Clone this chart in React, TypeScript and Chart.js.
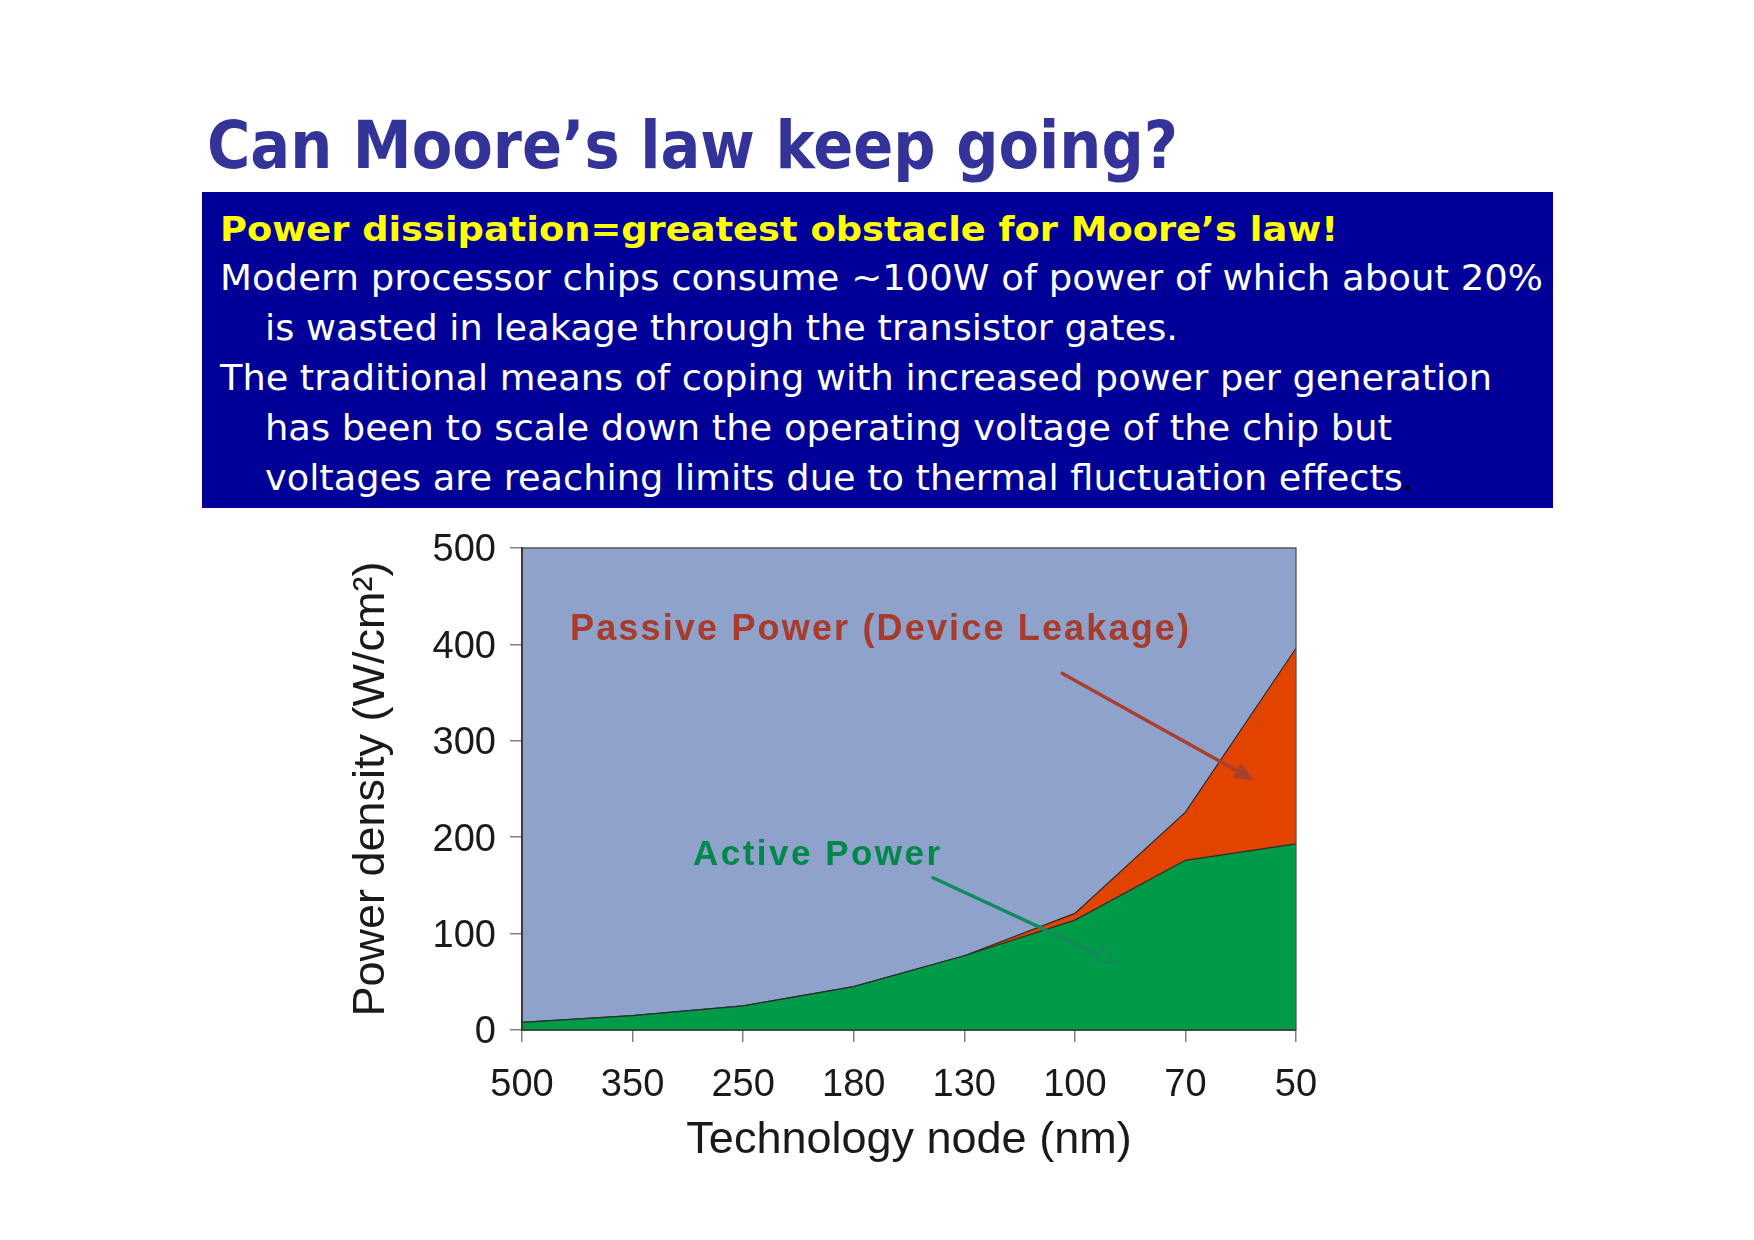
import React, { useEffect, useLayoutEffect, useRef } from 'react';
import { Chart, registerables } from 'chart.js';

Chart.register(...registerables);

// ---- data ----
const nodes = ['500', '350', '250', '180', '130', '100', '70', '50'];
const activePower = [8, 15, 25, 45, 77, 114, 176, 193];
const passivePower = [0, 0, 0, 0, 0, 7, 50, 203];
const yMin = 0;
const yMax = 500;
const yStep = 100;

const titleText = 'Can Moore\u2019s law keep going?';
const headline = 'Power dissipation=greatest obstacle for Moore\u2019s law!';
const bodyLines = [
  'Modern processor chips consume ~100W of power of which about 20%',
  'is wasted in leakage through the transistor gates.',
  'The traditional means of coping with increased power per generation',
  'has been to scale down the operating voltage of the chip but',
  'voltages are reaching limits due to thermal fluctuation effects',
];
const passiveLabel = 'Passive Power (Device Leakage)';
const activeLabel = 'Active Power';
const xTitle = 'Technology node (nm)';
const yTitle = 'Power density (W/cm\u00B2)';

// ---- helpers ----
function drawArrow(ctx: CanvasRenderingContext2D, x1: number, y1: number, x2: number, y2: number, color: string, filled: boolean) {
  const ang = Math.atan2(y2 - y1, x2 - x1);
  const c = Math.cos(ang), s = Math.sin(ang);
  const hl = 20, hw = 8;
  const bx = x2 - hl * c, by = y2 - hl * s;
  ctx.save();
  ctx.strokeStyle = color;
  ctx.fillStyle = color;
  ctx.lineWidth = 3.4;
  ctx.lineCap = 'round';
  ctx.beginPath();
  ctx.moveTo(x1, y1);
  ctx.lineTo(filled ? bx + 4 * c : bx, filled ? by + 4 * s : by);
  ctx.stroke();
  ctx.beginPath();
  ctx.moveTo(x2, y2);
  ctx.lineTo(bx - hw * s, by + hw * c);
  ctx.lineTo(bx + hw * s, by - hw * c);
  ctx.closePath();
  if (filled) ctx.fill();
  else {
    ctx.lineWidth = 2.2;
    ctx.lineJoin = 'miter';
    ctx.stroke();
  }
  ctx.restore();
}

function spacedText(ctx: CanvasRenderingContext2D, text: string, x: number, y: number, width: number, font: string, color: string) {
  ctx.save();
  ctx.font = font;
  (ctx as any).letterSpacing = '0px';
  const w = ctx.measureText(text).width;
  const ls = (width - w) / (text.length - 1);
  (ctx as any).letterSpacing = `${ls}px`;
  ctx.fillStyle = color;
  ctx.textAlign = 'left';
  ctx.textBaseline = 'alphabetic';
  ctx.fillText(text, x, y);
  ctx.restore();
}

const plotPlugin = {
  id: 'plotDecor',
  beforeDraw(chart: any) {
    const { ctx, chartArea: a } = chart;
    ctx.save();
    ctx.fillStyle = '#8FA2CB';
    ctx.fillRect(a.left, a.top, a.right - a.left, a.bottom - a.top);
    ctx.restore();
  },
  afterDatasetsDraw(chart: any) {
    const { ctx, chartArea: a } = chart;
    const xs = chart.scales.x;
    const ys = chart.scales.y;
    const px = (i: number) => xs.getPixelForValue(i);
    const py = (v: number) => ys.getPixelForValue(v);

    // frame
    ctx.save();
    ctx.strokeStyle = '#555';
    ctx.lineWidth = 1.3;
    ctx.beginPath();
    ctx.moveTo(a.left, a.top);
    ctx.lineTo(a.right, a.top);
    ctx.lineTo(a.right, a.bottom);
    ctx.stroke();
    ctx.strokeStyle = '#333';
    ctx.lineWidth = 1.5;
    ctx.beginPath();
    ctx.moveTo(a.left, a.top);
    ctx.lineTo(a.left, a.bottom);
    ctx.lineTo(a.right, a.bottom);
    ctx.stroke();
    ctx.restore();

    // annotations
    spacedText(ctx, passiveLabel, px(0.434), py(404.5), 619, 'bold 36px "Liberation Sans", Arial, sans-serif', '#A93B2A');
    spacedText(ctx, activeLabel, px(1.547), py(171), 247, 'bold 35px "Liberation Sans", Arial, sans-serif', '#00884A');
    drawArrow(ctx, px(4.884), py(370), px(6.62), py(259), '#A8402E', true);
    drawArrow(ctx, px(3.717), py(158), px(5.381), py(69.5), '#138A5C', false);
  },
};

function FitLine(props: { left: number; baseline: number; width: number; size: number; color: string; weight?: any; family: string; children: any }) {
  const ref = useRef<HTMLDivElement>(null);
  useLayoutEffect(() => {
    const el = ref.current;
    if (!el) return;
    el.style.transform = 'none';
    const w = el.getBoundingClientRect().width;
    if (w > 0) el.style.transform = `scaleX(${props.width / w})`;
  }, [props.width]);
  return (
    <div
      ref={ref}
      style={{
        position: 'absolute',
        left: props.left,
        top: props.baseline - 0.846 * props.size,
        fontSize: props.size,
        lineHeight: `${props.size}px`,
        whiteSpace: 'nowrap',
        transformOrigin: '0 0',
        color: props.color,
        fontWeight: props.weight ?? 'normal',
        fontFamily: props.family,
      }}
    >
      {props.children}
    </div>
  );
}

export default function App() {
  const canvasRef = useRef<HTMLCanvasElement>(null);

  useEffect(() => {
    const canvas = canvasRef.current;
    if (!canvas) return;
    const family = '"Liberation Sans", Arial, sans-serif';
    const tickFont = { family, size: 38 };
    const chart = new Chart(canvas, {
      type: 'line',
      data: {
        labels: nodes,
        datasets: [
          {
            label: 'Active Power',
            data: activePower,
            fill: 'origin',
            backgroundColor: '#009B48',
            borderColor: '#2b2b2b',
            borderWidth: 1.2,
            pointRadius: 0,
            tension: 0,
          },
          {
            label: 'Passive Power',
            data: passivePower,
            fill: '-1',
            backgroundColor: '#E24400',
            borderColor: '#2b2b2b',
            borderWidth: 1.2,
            pointRadius: 0,
            tension: 0,
          },
        ],
      },
      options: {
        responsive: false,
        animation: false,
        events: [],
        layout: { padding: { left: 341, top: 548, right: 458, bottom: 68 } },
        plugins: { legend: { display: false }, tooltip: { enabled: false } },
        scales: {
          x: {
            type: 'category',
            offset: false,
            grid: { display: true, drawOnChartArea: false, drawTicks: true, tickLength: 12, color: '#808080', lineWidth: 1.5 },
            border: { display: true, color: '#333', width: 1.5 },
            ticks: { font: tickFont, color: '#1a1a1a', padding: 21, autoSkip: false, maxRotation: 0, minRotation: 0 },
            title: { display: true, text: xTitle, font: { family, size: 45 }, color: '#1a1a1a', padding: 4 },
            afterFit: (scale: any) => { scale.height = 142; },
          },
          y: {
            stacked: true,
            min: yMin,
            max: yMax,
            grid: { display: true, drawOnChartArea: false, drawTicks: true, tickLength: 12, color: '#808080', lineWidth: 1.5 },
            border: { display: true, color: '#333', width: 1.5 },
            ticks: { stepSize: yStep, font: tickFont, color: '#1a1a1a', padding: 14, labelOffset: 3 },
            title: { display: true, text: yTitle, font: { family, size: 45 }, color: '#1a1a1a', padding: 4 },
            afterFit: (scale: any) => { scale.width = 181; },
          },
        },
      },
      plugins: [plotPlugin],
    } as any);
    return () => chart.destroy();
  }, []);

  const bodyFamily = '"DejaVu Sans Condensed", "DejaVu Sans", Verdana, sans-serif';
  const bodyWidths = [1323, 913, 1272, 1127, 1138];
  const bodyLefts = [220, 265, 220, 265, 265];
  const bodyBaselines = [291, 341, 391, 441, 491];

  return (
    <div style={{ position: 'absolute', left: 0, top: 0, width: 1754, height: 1240, background: '#ffffff', overflow: 'hidden' }}>
      <FitLine left={207} baseline={168} width={971} size={65} color="#333399" weight="bold" family='"DejaVu Sans", Verdana, sans-serif'>
        {titleText}
      </FitLine>
      <div style={{ position: 'absolute', left: 202, top: 192, width: 1351, height: 316, background: '#000099' }} />
      <FitLine left={220} baseline={241} width={1118} size={34} color="#FFFF00" weight="bold" family={bodyFamily}>
        {headline}
      </FitLine>
      {bodyLines.map((t, i) => (
        <FitLine key={i} left={bodyLefts[i]} baseline={bodyBaselines[i]} width={bodyWidths[i]} size={35} color="#FFFFFF" family={bodyFamily}>
          {t}
        </FitLine>
      ))}
      <div style={{ position: 'absolute', left: 1403, top: 491 - 30, fontSize: 35, lineHeight: '35px', color: '#000000', fontFamily: bodyFamily }}>.</div>
      <canvas ref={canvasRef} width={1754} height={1240} style={{ position: 'absolute', left: 0, top: 0, width: 1754, height: 1240 }} />
    </div>
  );
}
